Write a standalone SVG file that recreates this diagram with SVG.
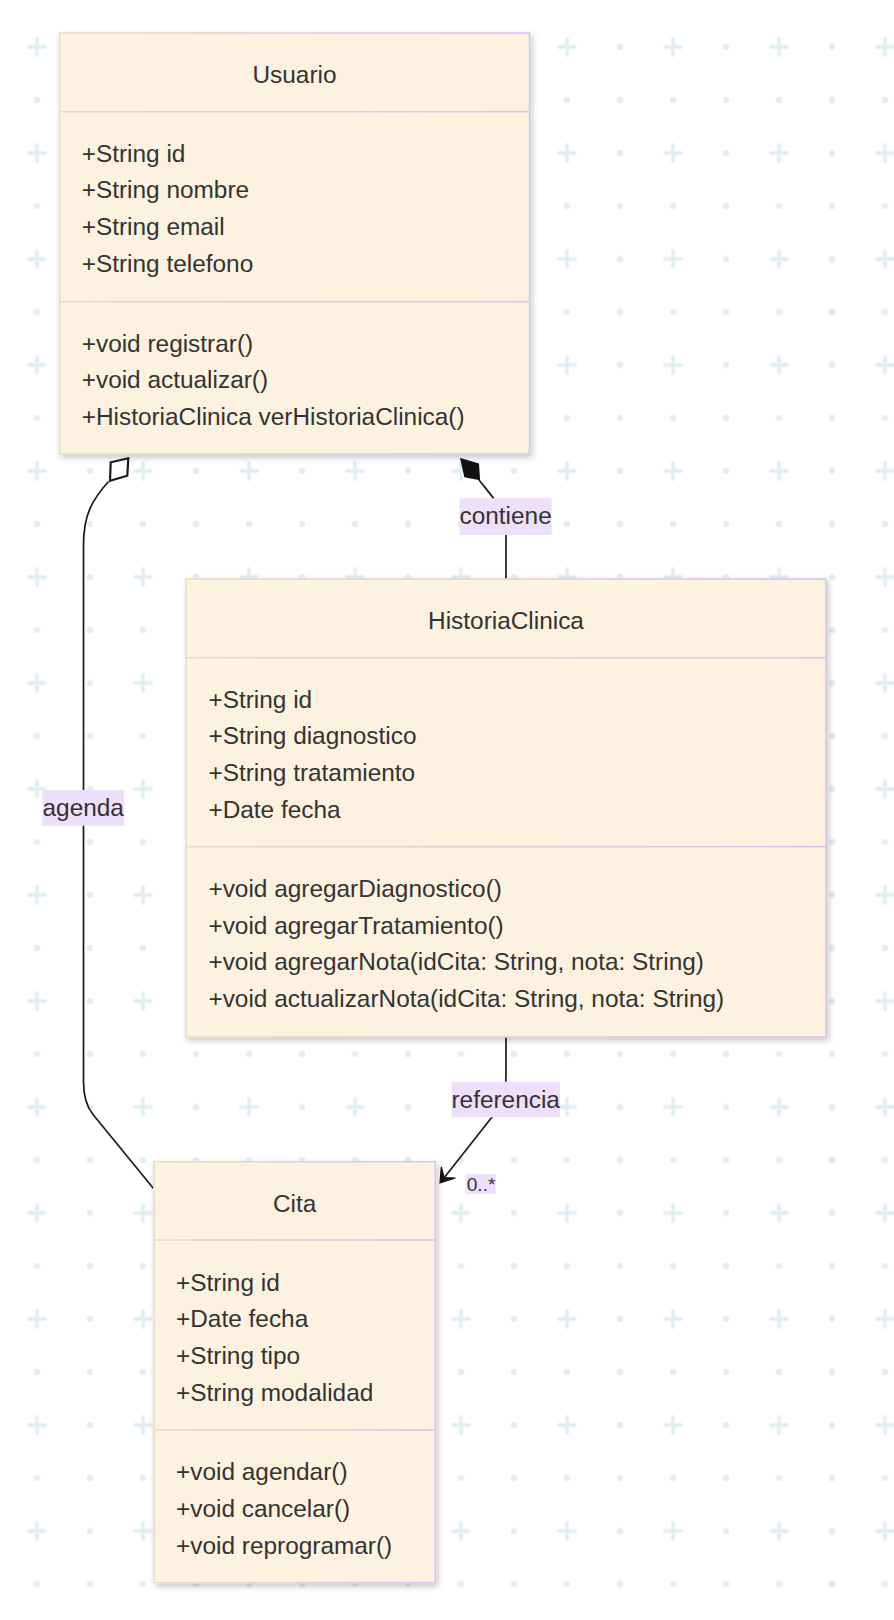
<svg xmlns="http://www.w3.org/2000/svg" width="894" height="1620" viewBox="0 0 894 1620">
<defs>
  <pattern id="grid" patternUnits="userSpaceOnUse" x="10.5" y="20.5" width="106" height="106">
    <path d="M18.5,26.5 H34.5 M26.5,18.5 V34.5" stroke="#e0eef2" stroke-width="3.8" stroke-linecap="round" fill="none"/>
    <circle cx="79.5" cy="26.5" r="3.2" fill="#e0eef2"/>
    <circle cx="26.5" cy="79.5" r="3.2" fill="#e0eef2"/>
    <circle cx="79.5" cy="79.5" r="3.2" fill="#e0eef2"/>
  </pattern>
  <linearGradient id="edge" x1="0" y1="0" x2="1" y2="0">
    <stop offset="0" stop-color="#eadcc0"/>
    <stop offset="1" stop-color="#d8c4ef"/>
  </linearGradient>
  <filter id="shadow" x="-10%" y="-10%" width="120%" height="120%">
    <feDropShadow dx="2" dy="3" stdDeviation="3" flood-color="#000" flood-opacity="0.22"/>
  </filter>
  <style>
    .box { fill: #fcf2df; stroke: url(#edge); stroke-width: 1.6; filter: url(#shadow); }
    .div { fill: url(#edge); }
    .t { font-family: "Liberation Sans", Arial, sans-serif; font-size: 24.4px; fill: #333333; }
    .title { text-anchor: middle; }
    .lbl { font-family: "Liberation Sans", Arial, sans-serif; font-size: 24.4px; fill: #333333; text-anchor: middle; }
    .lblbg { fill: #eee0fa; }
    .edge { fill: none; stroke: #1a1a1a; stroke-width: 1.7; }
  </style>
</defs>
<rect x="0" y="0" width="894" height="1620" fill="#ffffff"/>
<rect x="0" y="0" width="894" height="1620" fill="url(#grid)"/>

<g id="connectors">
  <path class="edge" d="M108.5,481.5 C92,500 83.5,515 83.5,545 L83.5,1082 C83.5,1098 87,1107 93,1114.5 L153.5,1188.5"/>
  <polygon points="128.3,458.3 110.7,462.3 110,480.7 127.3,475.7" fill="#ffffff" stroke="#1a1a1a" stroke-width="2.2" stroke-linejoin="miter"/>
  <rect class="lblbg" x="42.3" y="790" width="81.8" height="35.7"/>
  <text class="lbl" x="83.2" y="816">agenda</text>

  <path class="edge" d="M479,480 C495,500 506,510 506,535 L506,579"/>
  <polygon points="461,459 478.3,464 479.3,479.3 465,476.7" fill="#111111" stroke="#111111" stroke-width="1.5"/>
  <rect class="lblbg" x="459.5" y="498.3" width="92.2" height="36.7"/>
  <text class="lbl" x="505.6" y="524.3">contiene</text>

  <path class="edge" d="M506,1037 L506,1075 C506,1095 500,1105 492,1117 L444,1178"/>
  <polygon points="440,1183 455.4,1178 444.2,1177.7 441.3,1166.8" fill="#111111" stroke="#111111" stroke-width="1.2" stroke-linejoin="miter"/>
  <rect class="lblbg" x="451.5" y="1081.7" width="108.5" height="35.6"/>
  <text class="lbl" x="505.7" y="1107.7">referencia</text>
  <rect class="lblbg" x="465.7" y="1174" width="30" height="20"/>
  <text x="466.7" y="1190.7" font-family="'Liberation Sans', Arial, sans-serif" font-size="19.2" fill="#333333">0..*</text>
</g>

<g id="Usuario">
  <rect class="box" x="59.5" y="33" width="470" height="421"/>
  <rect class="div" x="59.5" y="110.9" width="470" height="1.6"/>
  <rect class="div" x="59.5" y="300.9" width="470" height="1.6"/>
  <text class="t title" x="294.5" y="82.7">Usuario</text>
  <text class="t" x="81.7" y="161.7">+String id</text>
  <text class="t" x="81.7" y="198.4">+String nombre</text>
  <text class="t" x="81.7" y="235.1">+String email</text>
  <text class="t" x="81.7" y="271.8">+String telefono</text>
  <text class="t" x="81.7" y="351.7">+void registrar()</text>
  <text class="t" x="81.7" y="388.4">+void actualizar()</text>
  <text class="t" x="81.7" y="425.1">+HistoriaClinica verHistoriaClinica()</text>
</g>

<g id="HistoriaClinica">
  <rect class="box" x="186" y="579" width="640" height="458"/>
  <rect class="div" x="186" y="656.9" width="640" height="1.6"/>
  <rect class="div" x="186" y="845.9" width="640" height="1.6"/>
  <text class="t title" x="506" y="628.5">HistoriaClinica</text>
  <text class="t" x="208.4" y="707.5">+String id</text>
  <text class="t" x="208.4" y="744.2">+String diagnostico</text>
  <text class="t" x="208.4" y="780.9">+String tratamiento</text>
  <text class="t" x="208.4" y="817.6">+Date fecha</text>
  <text class="t" x="208.4" y="896.9">+void agregarDiagnostico()</text>
  <text class="t" x="208.4" y="933.6">+void agregarTratamiento()</text>
  <text class="t" x="208.4" y="970.3">+void agregarNota(idCita: String, nota: String)</text>
  <text class="t" x="208.4" y="1007">+void actualizarNota(idCita: String, nota: String)</text>
</g>

<g id="Cita">
  <rect class="box" x="154" y="1161.7" width="281.3" height="421"/>
  <rect class="div" x="154" y="1239.2" width="281.3" height="1.6"/>
  <rect class="div" x="154" y="1429.2" width="281.3" height="1.6"/>
  <text class="t title" x="294.6" y="1211.5">Cita</text>
  <text class="t" x="176" y="1290.5">+String id</text>
  <text class="t" x="176" y="1327.2">+Date fecha</text>
  <text class="t" x="176" y="1363.9">+String tipo</text>
  <text class="t" x="176" y="1400.6">+String modalidad</text>
  <text class="t" x="176" y="1480.2">+void agendar()</text>
  <text class="t" x="176" y="1516.9">+void cancelar()</text>
  <text class="t" x="176" y="1553.6">+void reprogramar()</text>
</g>
</svg>
